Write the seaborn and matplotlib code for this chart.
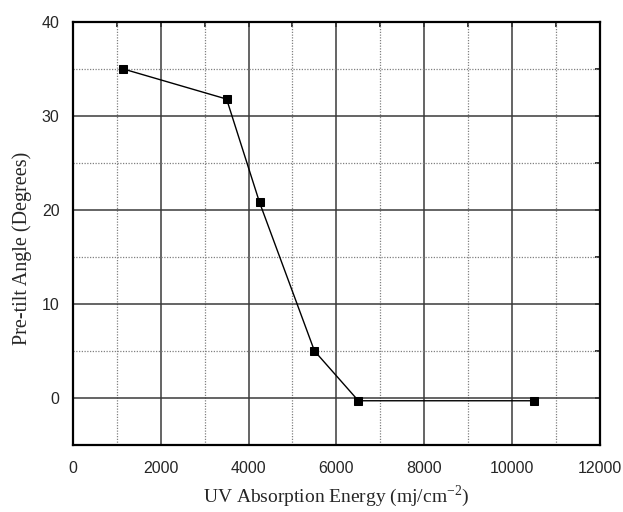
import numpy as np
import pandas as pd
import seaborn as sns
import matplotlib.pyplot as plt
from matplotlib.ticker import MultipleLocator

# values
uv_energy = [1150, 3500, 4250, 5500, 6500, 10500]
pretilt_angle = [35.0, 31.8, 20.8, 5.0, -0.3, -0.3]

x_ticks = [0, 2000, 4000, 6000, 8000, 10000, 12000]
y_ticks = [0, 10, 20, 30, 40]

sns.set_style("white")
plt.rcParams.update({
    "font.family": ["Liberation Sans", "DejaVu Sans"],
    "mathtext.fontset": "custom",
    "mathtext.rm": "Liberation Serif",
})

df = pd.DataFrame({"energy": uv_energy, "angle": pretilt_angle})

fig = plt.figure(figsize=(6.23, 5.12), dpi=100)
ax = fig.add_axes([0.117, 0.131, 0.846, 0.826])

# grid first so the data sits on top
ax.set_xlim(0, 12000)
ax.set_ylim(-5, 40)
ax.xaxis.set_major_locator(MultipleLocator(2000))
ax.xaxis.set_minor_locator(MultipleLocator(1000))
ax.yaxis.set_major_locator(MultipleLocator(10))
ax.yaxis.set_minor_locator(MultipleLocator(5))
ax.grid(which="major", color="#3a3a3a", linewidth=1.1, linestyle="-")
ax.grid(which="minor", color="#808080", linewidth=0.9, linestyle=(0, (1.0, 1.2)))
ax.set_axisbelow(True)

sns.lineplot(data=df, x="energy", y="angle", ax=ax, color="black",
             linewidth=1.0, marker="s", markersize=6, markeredgecolor="black",
             sort=False)

ax.set_xticks(x_ticks)
ax.set_yticks(y_ticks)
ax.tick_params(axis="both", which="major", direction="out", length=5.5, width=1.3,
               labelsize=11.5, color="black", pad=4)
ax.tick_params(axis="both", which="minor", direction="out", length=4, width=1.1,
               color="black")
ax.tick_params(axis="x", which="major", pad=6)

# top and right axes carry short inward ticks, as in the original
top = ax.secondary_xaxis("top")
top.xaxis.set_major_locator(MultipleLocator(2000))
top.xaxis.set_minor_locator(MultipleLocator(1000))
top.tick_params(which="both", direction="in", length=3.5, width=1.3, labeltop=False)
right = ax.secondary_yaxis("right")
right.yaxis.set_major_locator(MultipleLocator(10))
right.yaxis.set_minor_locator(MultipleLocator(5))
right.tick_params(which="both", direction="in", length=3.5, width=1.3, labelright=False)
for sec in (top, right):
    for spine in sec.spines.values():
        spine.set_visible(False)

for spine in ax.spines.values():
    spine.set_linewidth(1.6)
    spine.set_color("black")

ax.set_xlabel(r"UV Absorption Energy (mj/cm$^{\mathregular{-2}}$)",
              family="Liberation Serif", fontsize=14, labelpad=5)
ax.set_ylabel("Pre-tilt Angle (Degrees)", family="Liberation Serif",
              fontsize=14.5, labelpad=6)
ax.yaxis.set_label_coords(-0.078, 0.465)

fig.savefig("out.png", dpi=100, facecolor="white")
